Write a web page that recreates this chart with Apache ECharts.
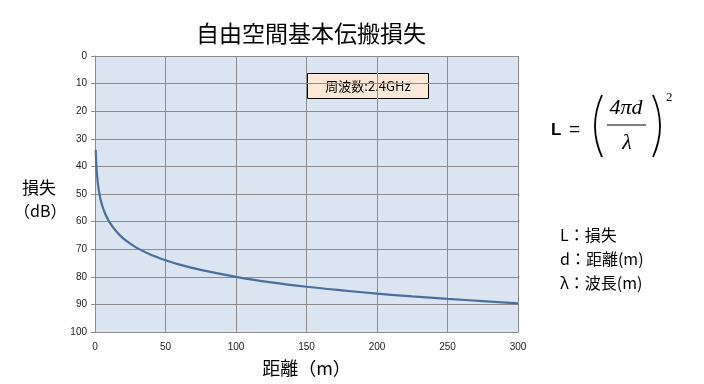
<!DOCTYPE html>
<html><head><meta charset="utf-8">
<script src="https://cdn.jsdelivr.net/npm/echarts@6/dist/echarts.min.js"></script>
<style>html,body{margin:0;padding:0;background:#fff}#c{width:704px;height:384px}</style>
</head><body><div id="c"></div>
<script>
var distance = [0.5, 1, 2, 3, 4, 5, 7, 10, 15, 20, 25, 30, 40, 50, 60, 75, 100, 125, 150, 175, 200, 225, 250, 275, 300];
var loss =     [34.0, 40.0, 46.1, 49.6, 52.1, 54.0, 56.9, 60.0, 63.5, 66.1, 68.0, 69.6, 72.1, 74.0, 75.6, 77.5, 80.0, 82.0, 83.6, 84.9, 86.1, 87.1, 88.0, 88.8, 89.6];
var xTicks = [0, 50, 100, 150, 200, 250, 300];
var yTicks = [0, 10, 20, 30, 40, 50, 60, 70, 80, 90, 100];
var titleText = '自由空間基本伝搬損失';
var noteText = '周波数:2.4GHz';
var legendLines = ['L：損失', 'd：距離(m)', 'λ：波長(m)'];

var jp = '"Noto Sans CJK JP", sans-serif';
var chart = echarts.init(document.getElementById('c'));
var pts = distance.map(function(d, i){ return [d, loss[i]]; });
chart.setOption({
  animation: false,
  title: { text: titleText, left: 306, top: 17, textAlign: 'center',
    textStyle: { fontFamily: jp, fontSize: 23, fontWeight: 'normal', color: '#000' } },
  grid: { left: 95, right: 186, top: 56, bottom: 52, show: true, backgroundColor: '#dbe5f1', borderWidth: 0 },
  xAxis: { type: 'value', min: xTicks[0], max: xTicks[xTicks.length-1], interval: 50,
    name: '距離（m）', nameLocation: 'middle', nameGap: 27,
    nameTextStyle: { fontFamily: jp, fontSize: 18, color: '#000' },
    axisLine: { show: true, onZero: false, lineStyle: { color: '#8c8c8c' } },
    axisTick: { show: false },
    axisLabel: { fontFamily: 'Liberation Sans, sans-serif', fontSize: 10, color: '#222', margin: 10 },
    splitLine: { show: true, lineStyle: { color: '#8c8c8c', width: 1 } } },
  yAxis: { type: 'value', inverse: true, min: yTicks[0], max: yTicks[yTicks.length-1], interval: 10,
    axisLine: { show: true, onZero: false, lineStyle: { color: '#8c8c8c' } },
    axisTick: { show: true, length: 4, inside: false, lineStyle: { color: '#8c8c8c' } },
    axisLabel: { fontFamily: 'Liberation Sans, sans-serif', fontSize: 10, color: '#222', margin: 8 },
    splitLine: { show: true, lineStyle: { color: '#8c8c8c', width: 1 } } },
  series: [{ type: 'line', data: pts, smooth: 0.3, showSymbol: false,
    lineStyle: { color: '#4a6f9e', width: 2.2 } }],
  graphic: [
    { type: 'text', left: 22, top: 179, style: { text: '損失', fontFamily: jp, fontSize: 17, fill: '#000' } },
    { type: 'text', left: 14, top: 203, style: { text: '（dB）', fontFamily: jp, fontSize: 16, fill: '#000' } },
    { type: 'group', left: 307, top: 73, children: [
      { type: 'rect', shape: { x: 0, y: 0, width: 121, height: 25 }, style: { fill: '#fde9d9', stroke: '#000', lineWidth: 1 } },
      { type: 'text', x: 60.5, y: 12.5, style: { text: noteText, fontFamily: jp, fontSize: 13, fill: '#000', textAlign: 'center', textVerticalAlign: 'middle' } }
    ]},
    // formula
    { type: 'text', x: 551, y: 130, style: { text: 'L', fontFamily: 'Liberation Sans, sans-serif', fontWeight: 'bold', fontSize: 17, fill: '#000', textVerticalAlign: 'middle' } },
    { type: 'text', x: 569, y: 130, style: { text: '=', fontFamily: 'Liberation Sans, sans-serif', fontSize: 19, fill: '#000', textVerticalAlign: 'middle' } },
    { type: 'bezierCurve', shape: { x1: 602, y1: 95, cpx1: 588, cpy1: 126, x2: 602, y2: 157 }, style: { stroke: '#000', lineWidth: 1.8, fill: null } },
    { type: 'bezierCurve', shape: { x1: 653, y1: 95, cpx1: 667, cpy1: 126, x2: 653, y2: 157 }, style: { stroke: '#000', lineWidth: 1.8, fill: null } },
    { type: 'text', x: 626, y: 108, style: { text: '4πd', fontFamily: 'Liberation Serif, serif', fontStyle: 'italic', fontSize: 22, fill: '#000', textAlign: 'center', textVerticalAlign: 'middle' } },
    { type: 'line', shape: { x1: 607, y1: 125, x2: 646, y2: 125 }, style: { stroke: '#000', lineWidth: 1 } },
    { type: 'text', x: 627, y: 143, style: { text: 'λ', fontFamily: 'Liberation Serif, serif', fontStyle: 'italic', fontSize: 22, fill: '#000', textAlign: 'center', textVerticalAlign: 'middle' } },
    { type: 'text', x: 666, y: 98, style: { text: '2', fontFamily: 'Liberation Serif, serif', fontSize: 13, fill: '#000', textVerticalAlign: 'middle' } },
    { type: 'text', x: 560, y: 235, style: { text: legendLines[0], fontFamily: jp, fontSize: 16, fill: '#000', textVerticalAlign: 'middle' } },
    { type: 'text', x: 560, y: 259, style: { text: legendLines[1], fontFamily: jp, fontSize: 16, fill: '#000', textVerticalAlign: 'middle' } },
    { type: 'text', x: 560, y: 283, style: { text: legendLines[2], fontFamily: jp, fontSize: 16, fill: '#000', textVerticalAlign: 'middle' } }
  ]
});
</script></body></html>
